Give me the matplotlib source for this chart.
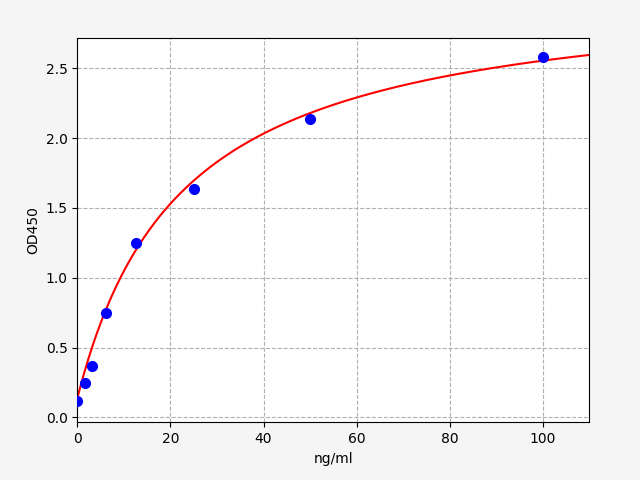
import numpy as np
import matplotlib
matplotlib.use("Agg")
import matplotlib.pyplot as plt

# standard concentrations (ng/ml) and measured OD450
conc = [0, 1.56, 3.125, 6.25, 12.5, 25, 50, 100]
od450 = [0.12, 0.245, 0.37, 0.75, 1.25, 1.635, 2.14, 2.58]

# 4PL fit parameters: a (bottom), b (slope), c (ec50), d (top)
fit_a = 0.136
fit_b = 1.0
fit_c = 22.5
fit_d = 3.1


def four_pl(x, a, b, c, d):
    return d + (a - d) / (1.0 + (x / c) ** b)


fig = plt.figure(figsize=(6.4, 4.8), dpi=100, facecolor="#f5f5f5")
ax = fig.add_subplot(111)
fig.subplots_adjust(left=0.1208, right=0.921, bottom=0.12, top=0.92)

xs = np.linspace(0, 110, 500)
ax.plot(xs, four_pl(xs, fit_a, fit_b, fit_c, fit_d), color="red", lw=1.5, zorder=2)
ax.plot(conc, od450, "o", color="blue", ms=7, zorder=3)

ax.set_xlim(0, 110)
ax.set_ylim(-0.036, 2.715)
ax.set_xticks([0, 20, 40, 60, 80, 100])
ax.set_yticks([0.0, 0.5, 1.0, 1.5, 2.0, 2.5])
ax.grid(True, linestyle="--", color="#b0b0b0", lw=0.8)
ax.set_axisbelow(True)
ax.set_xlabel("ng/ml")
ax.set_ylabel("OD450")

fig.savefig("out.png", dpi=100, facecolor=fig.get_facecolor())
